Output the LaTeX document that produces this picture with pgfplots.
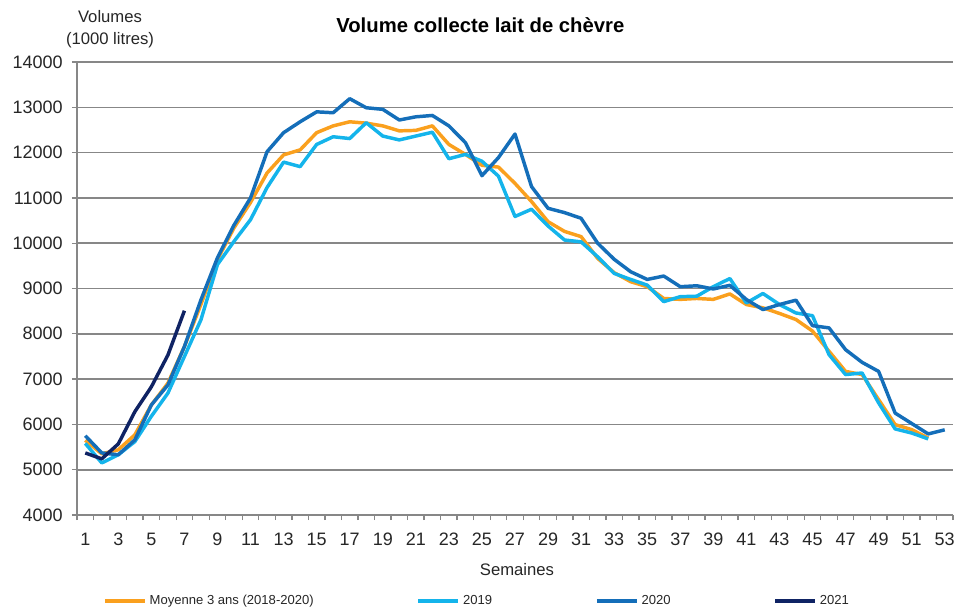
\documentclass[border=0pt]{standalone}
\usepackage{pgfplots}
\pgfplotsset{compat=1.18}
\usepackage{pgfplotstable}
\usepackage{fontspec}
\setmainfont{Liberation Sans}
\definecolor{cMoy}{RGB}{250,160,30}
\definecolor{c2019}{RGB}{20,180,235}
\definecolor{c2020}{RGB}{20,110,185}
\definecolor{c2021}{RGB}{15,35,100}
\definecolor{cGrid}{RGB}{135,135,135}
\pgfplotstableread{
w moy a2019 a2020 a2021
1 5650 5580 5750 5370
2 5350 5150 5370 5240
3 5440 5330 5330 5570
4 5770 5620 5660 6280
5 6430 6180 6430 6830
6 6910 6690 6870 7530
7 7720 7500 7720 8510
8 8650 8310 8750 nan
9 9640 9530 9680 nan
10 10340 10040 10400 nan
11 10900 10520 11000 nan
12 11550 11230 12020 nan
13 11950 11790 12440 nan
14 12060 11690 12680 nan
15 12440 12180 12900 nan
16 12590 12350 12880 nan
17 12680 12310 13190 nan
18 12650 12660 12990 nan
19 12590 12365 12955 nan
20 12480 12280 12720 nan
21 12490 12365 12790 nan
22 12590 12450 12820 nan
23 12180 11865 12590 nan
24 11960 11960 12220 nan
25 11720 11810 11490 nan
26 11680 11480 11890 nan
27 11320 10590 12410 nan
28 10920 10750 11250 nan
29 10475 10380 10770 nan
30 10260 10070 10675 nan
31 10145 10030 10550 nan
32 9665 9700 10000 nan
33 9350 9333 9645 nan
34 9150 9200 9370 nan
35 9040 9075 9200 nan
36 8780 8710 9275 nan
37 8760 8820 9040 nan
38 8780 8830 9060 nan
39 8760 9040 8990 nan
40 8880 9220 9070 nan
41 8646 8680 8757 nan
42 8573 8890 8535 nan
43 8450 8646 8646 nan
44 8315 8460 8742 nan
45 8060 8400 8180 nan
46 7615 7540 8130 nan
47 7170 7100 7650 nan
48 7100 7135 7370 nan
49 6547 6475 7170 nan
50 5995 5900 6250 nan
51 5885 5810 6020 nan
52 5700 5680 5790 nan
53 nan nan 5880 nan
}\data
\begin{document}
\begin{tikzpicture}
\useasboundingbox (-57.75pt,-69.75pt) rectangle (660pt,386.25pt);
\begin{axis}[
  at={(0,0)}, anchor=south west,
  scale only axis, width=657pt, height=339.75pt,
  xmin=0.5, xmax=53.5, ymin=4000, ymax=14000,
  axis lines*=left, axis line style={-, draw=cGrid, line width=1.1pt},
  xtick={1,3,...,53},
  minor xtick={0.5,1.5,...,53.5},
  ytick={4000,5000,...,14000},
  scaled y ticks=false,
  tick align=outside,
  major tick length=3.75pt, minor tick length=3.75pt,
  major x tick style={draw=none},
  tick style={cGrid, line width=1pt},
  ymajorgrids, grid style={cGrid, line width=1.2pt},
  /pgf/number format/1000 sep={},
  /pgf/number format/assume math mode=true,
  tick label style={font=\fontsize{13.5}{15}\selectfont, text=black!85},
  xticklabel style={yshift=-6pt},
  yticklabel style={xshift=-3.5pt},
  unbounded coords=jump,
  legend columns=4,
  legend style={at={(axis description cs:0.457,-0.19)}, anchor=center, draw=none, fill=none,
    font=\fontsize{9.8}{11}\selectfont, text=black!85,
    /tikz/every even column/.append style={column sep=75pt}},
  legend image code/.code={\draw[#1, line width=3pt] (0pt,0pt) -- (30pt,0pt);},
  every axis plot/.append style={line width=2.6pt, line join=round, no marks},
  clip=false,
]
\addplot[cMoy] table[x=w, y=moy] {\data};
\addlegendentry{Moyenne 3 ans (2018-2020)}
\addplot[c2019] table[x=w, y=a2019] {\data};
\addlegendentry{2019}
\addplot[c2020] table[x=w, y=a2020] {\data};
\addlegendentry{2020}
\addplot[c2021] table[x=w, y=a2021] {\data};
\addlegendentry{2021}
\end{axis}
\node[font=\bfseries\fontsize{15.2}{17}\selectfont] at (302.5pt,367.5pt) {Volume collecte lait de chèvre};
\node[font=\fontsize{12.5}{16.5}\selectfont, align=center, text=black!85] at (24.75pt,364pt) {Volumes\\(1000 litres)};
\node[font=\fontsize{12.5}{14}\selectfont, text=black!85] at (330pt,-41.25pt) {Semaines};
\end{tikzpicture}
\end{document}
